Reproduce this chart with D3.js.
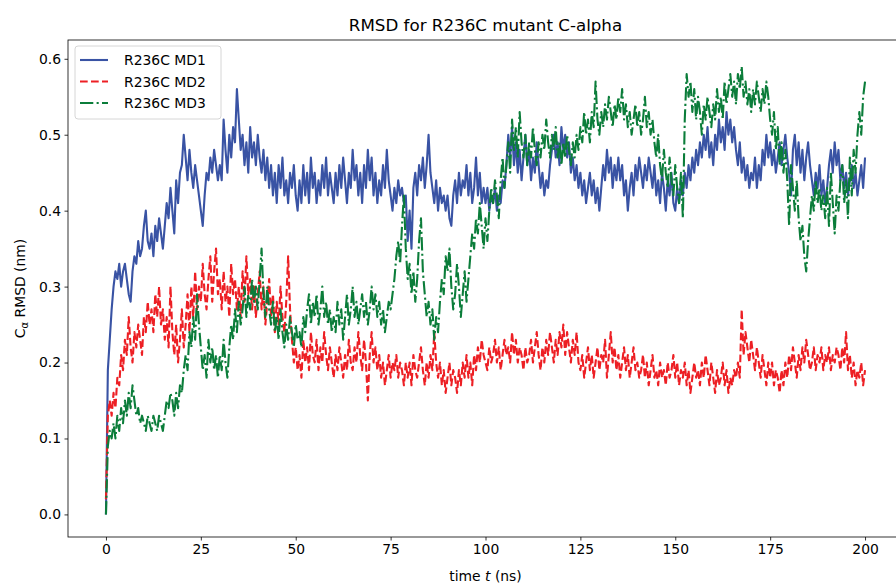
<!DOCTYPE html>
<html>
<head>
<meta charset="utf-8">
<script src="https://cdn.jsdelivr.net/npm/d3@7"></script>
<style>
  body { margin: 0; background: #fff; }
  text { font-family: "DejaVu Sans", sans-serif; }
</style>
</head>
<body>
<div id="chart"></div>
<script>
// time step of the trajectory samples (ns), series run from 0 to 200 ns
var timeStep = 0.5;

var seriesNames = ["R236C MD1", "R236C MD2", "R236C MD3"];

var md1 = [
  0.00, 0.19, 0.23, 0.27, 0.30, 0.32, 0.31, 0.33, 0.30, 0.32,
  0.33, 0.31, 0.29, 0.28, 0.32, 0.34, 0.33, 0.36, 0.34, 0.35,
  0.38, 0.40, 0.36, 0.35, 0.37, 0.34, 0.38, 0.36, 0.39, 0.37,
  0.35, 0.38, 0.41, 0.39, 0.43, 0.40, 0.37, 0.44, 0.41, 0.45,
  0.46, 0.50, 0.47, 0.44, 0.48, 0.45, 0.43, 0.46, 0.44, 0.42,
  0.40, 0.38, 0.42, 0.45, 0.44, 0.47, 0.45, 0.48, 0.46, 0.44,
  0.46, 0.44, 0.52, 0.48, 0.45, 0.50, 0.47, 0.51, 0.49, 0.56,
  0.52, 0.48, 0.50, 0.46, 0.49, 0.45, 0.51, 0.47, 0.49, 0.46,
  0.50, 0.47, 0.45, 0.48, 0.44, 0.47, 0.43, 0.46, 0.42, 0.45,
  0.41, 0.46, 0.43, 0.47, 0.42, 0.44, 0.41, 0.45, 0.43, 0.46,
  0.42, 0.40, 0.44, 0.41, 0.46, 0.42, 0.45, 0.41, 0.47, 0.43,
  0.45, 0.41, 0.44, 0.42, 0.46, 0.43, 0.47, 0.42, 0.45, 0.43,
  0.41, 0.45, 0.42, 0.46, 0.43, 0.47, 0.44, 0.41, 0.45, 0.43,
  0.48, 0.44, 0.46, 0.42, 0.45, 0.41, 0.46, 0.43, 0.48, 0.44,
  0.47, 0.42, 0.45, 0.41, 0.44, 0.42, 0.46, 0.43, 0.48, 0.44,
  0.42, 0.40, 0.43, 0.41, 0.44, 0.42, 0.43, 0.41, 0.42, 0.36,
  0.40, 0.35, 0.43, 0.45, 0.42, 0.46, 0.44, 0.47, 0.43, 0.46,
  0.50, 0.45, 0.43, 0.41, 0.44, 0.40, 0.43, 0.41, 0.42, 0.40,
  0.42, 0.39, 0.38, 0.42, 0.44, 0.41, 0.45, 0.42, 0.44, 0.43,
  0.46, 0.42, 0.45, 0.41, 0.43, 0.47, 0.42, 0.45, 0.41, 0.43,
  0.41, 0.43, 0.40, 0.42, 0.41, 0.43, 0.40, 0.42, 0.41, 0.44,
  0.43, 0.46, 0.50, 0.47, 0.51, 0.46, 0.49, 0.45, 0.48, 0.44,
  0.47, 0.50, 0.46, 0.48, 0.44, 0.47, 0.45, 0.49, 0.46, 0.43,
  0.45, 0.42, 0.44, 0.43, 0.46, 0.48, 0.50, 0.47, 0.49, 0.46,
  0.51, 0.48, 0.50, 0.47, 0.49, 0.45, 0.47, 0.44, 0.46, 0.43,
  0.45, 0.42, 0.44, 0.41, 0.43, 0.45, 0.42, 0.44, 0.41, 0.43,
  0.40, 0.43, 0.46, 0.44, 0.48, 0.45, 0.47, 0.43, 0.46, 0.44,
  0.47, 0.44, 0.46, 0.42, 0.44, 0.40, 0.43, 0.45, 0.42, 0.46,
  0.44, 0.47, 0.45, 0.43, 0.46, 0.44, 0.47, 0.45, 0.43, 0.46,
  0.42, 0.44, 0.41, 0.45, 0.43, 0.40, 0.44, 0.42, 0.45, 0.41,
  0.40, 0.43, 0.41, 0.44, 0.42, 0.45, 0.43, 0.46, 0.44, 0.47,
  0.45, 0.48, 0.46, 0.49, 0.47, 0.50, 0.48, 0.51, 0.47, 0.49,
  0.46, 0.50, 0.48, 0.52, 0.49, 0.51, 0.48, 0.53, 0.50, 0.52,
  0.49, 0.51, 0.48, 0.46, 0.49, 0.45, 0.47, 0.44, 0.46, 0.43,
  0.45, 0.44, 0.47, 0.43, 0.46, 0.44, 0.48, 0.46, 0.50, 0.47,
  0.49, 0.46, 0.48, 0.45, 0.47, 0.49, 0.46, 0.48, 0.50, 0.47,
  0.45, 0.42, 0.48, 0.50, 0.46, 0.49, 0.45, 0.48, 0.44, 0.47,
  0.49, 0.46, 0.44, 0.42, 0.45, 0.43, 0.46, 0.42, 0.44, 0.41,
  0.43, 0.46, 0.48, 0.45, 0.49, 0.46, 0.48, 0.44, 0.46, 0.43,
  0.45, 0.42, 0.44, 0.46, 0.43, 0.45, 0.42, 0.44, 0.46, 0.43,
  0.47
];

var md2 = [
  0.02, 0.13, 0.15, 0.13, 0.16, 0.14, 0.18, 0.17, 0.21, 0.19,
  0.23, 0.21, 0.26, 0.22, 0.20, 0.24, 0.22, 0.25, 0.23, 0.21,
  0.26, 0.24, 0.28, 0.25, 0.27, 0.24, 0.29, 0.26, 0.30, 0.25,
  0.27, 0.23, 0.26, 0.22, 0.30, 0.24, 0.21, 0.25, 0.20, 0.23,
  0.27, 0.22, 0.25, 0.29, 0.24, 0.30, 0.26, 0.32, 0.27, 0.30,
  0.28, 0.33, 0.29, 0.27, 0.31, 0.34, 0.28, 0.32, 0.35, 0.29,
  0.31, 0.27, 0.32, 0.28, 0.30, 0.26, 0.33, 0.29, 0.31, 0.27,
  0.30, 0.26, 0.32, 0.28, 0.34, 0.29, 0.31, 0.27, 0.30, 0.26,
  0.29, 0.32, 0.27, 0.30, 0.25, 0.28, 0.31, 0.26, 0.29, 0.24,
  0.28, 0.25, 0.30, 0.26, 0.24, 0.28, 0.34, 0.27, 0.23, 0.20,
  0.22, 0.19, 0.21, 0.18, 0.23, 0.20, 0.22, 0.19, 0.24, 0.21,
  0.20, 0.23, 0.19, 0.22, 0.20, 0.24, 0.21, 0.19, 0.22, 0.20,
  0.18, 0.21, 0.19, 0.22, 0.20, 0.18, 0.21, 0.19, 0.23, 0.20,
  0.19, 0.22, 0.20, 0.24, 0.21, 0.19, 0.23, 0.20, 0.15, 0.21,
  0.24, 0.20, 0.22, 0.19, 0.21, 0.18, 0.20, 0.17, 0.19, 0.21,
  0.18, 0.20, 0.19, 0.21, 0.18, 0.20, 0.19, 0.17, 0.20, 0.18,
  0.20, 0.17, 0.21, 0.19, 0.18, 0.20, 0.22, 0.19, 0.17, 0.20,
  0.18, 0.21, 0.19, 0.24, 0.20, 0.18, 0.20, 0.17, 0.19, 0.16,
  0.18, 0.20, 0.17, 0.19, 0.18, 0.16, 0.19, 0.17, 0.20, 0.18,
  0.21, 0.18, 0.20, 0.17, 0.21, 0.19, 0.22, 0.20, 0.23, 0.21,
  0.20, 0.19, 0.22, 0.20, 0.21, 0.23, 0.20, 0.22, 0.19, 0.21,
  0.23, 0.21, 0.22, 0.20, 0.24, 0.21, 0.23, 0.20, 0.22, 0.21,
  0.19, 0.22, 0.20, 0.21, 0.23, 0.20, 0.22, 0.24, 0.21, 0.19,
  0.22, 0.20, 0.23, 0.21, 0.24, 0.22, 0.20, 0.23, 0.21, 0.24,
  0.22, 0.25, 0.21, 0.24, 0.22, 0.20, 0.23, 0.21, 0.24, 0.20,
  0.19, 0.21, 0.18, 0.20, 0.22, 0.19, 0.21, 0.18, 0.20, 0.22,
  0.19, 0.21, 0.20, 0.23, 0.18, 0.21, 0.24, 0.20, 0.22, 0.19,
  0.21, 0.18, 0.20, 0.22, 0.19, 0.21, 0.18, 0.20, 0.22, 0.19,
  0.20, 0.18, 0.19, 0.21, 0.18, 0.20, 0.17, 0.19, 0.21, 0.18,
  0.19, 0.17, 0.20, 0.18, 0.19, 0.17, 0.20, 0.18, 0.19, 0.21,
  0.18, 0.20, 0.17, 0.19, 0.18, 0.20, 0.17, 0.19, 0.16, 0.18,
  0.20, 0.18, 0.19, 0.17, 0.20, 0.18, 0.21, 0.19, 0.17, 0.20,
  0.18, 0.16, 0.19, 0.17, 0.18, 0.20, 0.17, 0.19, 0.16, 0.18,
  0.17, 0.19, 0.18, 0.20, 0.18, 0.27, 0.21, 0.24, 0.22, 0.20,
  0.23, 0.21, 0.19, 0.22, 0.20, 0.18, 0.21, 0.19, 0.17, 0.20,
  0.18, 0.20, 0.17, 0.19, 0.18, 0.16, 0.19, 0.17, 0.20, 0.18,
  0.21, 0.19, 0.22, 0.20, 0.18, 0.21, 0.19, 0.22, 0.20, 0.23,
  0.21, 0.19, 0.20, 0.22, 0.19, 0.21, 0.20, 0.22, 0.19, 0.21,
  0.20, 0.22, 0.19, 0.21, 0.20, 0.22, 0.21, 0.19, 0.22, 0.20,
  0.24, 0.19, 0.21, 0.18, 0.20, 0.17, 0.19, 0.18, 0.20, 0.17,
  0.19
];

var md3 = [
  0.00, 0.09, 0.11, 0.10, 0.12, 0.10, 0.13, 0.11, 0.14, 0.12,
  0.15, 0.13, 0.16, 0.14, 0.17, 0.15, 0.13, 0.14, 0.12, 0.13,
  0.12, 0.11, 0.13, 0.12, 0.11, 0.13, 0.12, 0.11, 0.13, 0.12,
  0.11, 0.13, 0.15, 0.14, 0.16, 0.15, 0.13, 0.16, 0.14, 0.17,
  0.16, 0.19, 0.21, 0.19, 0.24, 0.22, 0.26, 0.23, 0.29, 0.25,
  0.22, 0.19, 0.21, 0.18, 0.23, 0.20, 0.22, 0.19, 0.21, 0.18,
  0.21, 0.19, 0.23, 0.20, 0.18, 0.22, 0.25, 0.23, 0.27, 0.24,
  0.28, 0.25, 0.27, 0.30, 0.26, 0.29, 0.27, 0.31, 0.28, 0.30,
  0.27, 0.31, 0.35, 0.29, 0.26, 0.30, 0.27, 0.25, 0.28, 0.24,
  0.26, 0.23, 0.27, 0.24, 0.22, 0.25, 0.23, 0.26, 0.24, 0.22,
  0.25, 0.23, 0.24, 0.22, 0.26, 0.24, 0.27, 0.29, 0.25, 0.28,
  0.26, 0.29, 0.25, 0.27, 0.30, 0.26, 0.28, 0.25, 0.27, 0.24,
  0.26, 0.24, 0.28, 0.25, 0.27, 0.23, 0.26, 0.29, 0.25, 0.27,
  0.30, 0.26, 0.28, 0.25, 0.27, 0.29, 0.26, 0.28, 0.25, 0.27,
  0.30, 0.27, 0.29, 0.26, 0.28, 0.25, 0.27, 0.24, 0.26, 0.28,
  0.27, 0.29, 0.31, 0.34, 0.36, 0.33, 0.38, 0.42, 0.35, 0.31,
  0.33, 0.29, 0.32, 0.28, 0.31, 0.36, 0.39, 0.32, 0.29, 0.26,
  0.28, 0.25, 0.27, 0.23, 0.26, 0.24, 0.28, 0.31, 0.29, 0.34,
  0.32, 0.35, 0.30, 0.27, 0.29, 0.33, 0.30, 0.26, 0.29, 0.32,
  0.28, 0.31, 0.34, 0.37, 0.35, 0.39, 0.37, 0.41, 0.38, 0.35,
  0.39, 0.36, 0.40, 0.43, 0.41, 0.44, 0.42, 0.39, 0.44, 0.47,
  0.43, 0.46, 0.49, 0.45, 0.52, 0.48, 0.51, 0.47, 0.53, 0.49,
  0.47, 0.50, 0.46, 0.49, 0.47, 0.51, 0.48, 0.46, 0.49, 0.47,
  0.50, 0.48, 0.52, 0.49, 0.47, 0.50, 0.48, 0.51, 0.47, 0.49,
  0.46, 0.49, 0.47, 0.50, 0.48, 0.46, 0.49, 0.47, 0.50, 0.48,
  0.51, 0.49, 0.53, 0.50, 0.52, 0.49, 0.53, 0.51, 0.57, 0.52,
  0.50, 0.53, 0.51, 0.54, 0.52, 0.55, 0.53, 0.51, 0.54, 0.52,
  0.55, 0.53, 0.56, 0.52, 0.54, 0.51, 0.53, 0.50, 0.52, 0.54,
  0.51, 0.53, 0.50, 0.52, 0.55, 0.51, 0.53, 0.50, 0.52, 0.49,
  0.47, 0.50, 0.46, 0.44, 0.48, 0.45, 0.43, 0.47, 0.44, 0.42,
  0.46, 0.43, 0.41, 0.45, 0.39, 0.52, 0.58, 0.55, 0.57, 0.53,
  0.56, 0.52, 0.55, 0.53, 0.50, 0.54, 0.52, 0.55, 0.53, 0.51,
  0.54, 0.52, 0.56, 0.53, 0.55, 0.52, 0.57, 0.54, 0.56, 0.58,
  0.55, 0.57, 0.54, 0.58, 0.56, 0.59, 0.55, 0.57, 0.54, 0.56,
  0.53, 0.56, 0.54, 0.57, 0.55, 0.53, 0.56, 0.54, 0.57, 0.55,
  0.52, 0.50, 0.53, 0.48, 0.51, 0.46, 0.49, 0.45, 0.48, 0.44,
  0.38, 0.46, 0.43, 0.40, 0.44, 0.39, 0.36, 0.38, 0.34, 0.32,
  0.36, 0.39, 0.42, 0.40, 0.44, 0.41, 0.43, 0.40, 0.42, 0.39,
  0.43, 0.38, 0.45, 0.41, 0.37, 0.42, 0.40, 0.44, 0.46, 0.41,
  0.44, 0.39, 0.47, 0.42, 0.48, 0.45, 0.50, 0.53, 0.50, 0.55,
  0.57
];

var xTicks = [0, 25, 50, 75, 100, 125, 150, 175, 200];
var yTicks = [0.0, 0.1, 0.2, 0.3, 0.4, 0.5, 0.6];

var colors = ["#3953a4", "#ed1f24", "#0b7d3a"];
var dashes = ["none", "7.7,3.3", "13.3,3.3,2.1,3.3"];

var svgWidth = 896;
var svgHeight = 586;

var margin = { top: 40, right: -7, bottom: 49, left: 68 };
var width = svgWidth - margin.left - margin.right;
var height = svgHeight - margin.top - margin.bottom;

var svg = d3.select("#chart")
  .append("svg")
  .attr("width", svgWidth)
  .attr("height", svgHeight);

var chartGroup = svg.append("g")
  .attr("transform", `translate(${margin.left}, ${margin.top})`);

var xScale = d3.scaleLinear()
  .domain([-10, 210])
  .range([0, width]);

var yScale = d3.scaleLinear()
  .domain([-0.02975, 0.62475])
  .range([height, 0]);

chartGroup.append("clipPath")
  .attr("id", "plotClip")
  .append("rect")
  .attr("width", width)
  .attr("height", height);

var series = [md1, md2, md3].map(function(vals, i) {
  return {
    name: seriesNames[i],
    color: colors[i],
    dash: dashes[i],
    points: vals.map(function(v, j) { return { t: j * timeStep, rmsd: v }; })
  };
});

var line = d3.line()
  .x(d => xScale(d.t))
  .y(d => yScale(d.rmsd));

chartGroup.append("g")
  .attr("clip-path", "url(#plotClip)")
  .selectAll("path")
  .data(series)
  .enter()
  .append("path")
  .attr("d", d => line(d.points))
  .attr("fill", "none")
  .attr("stroke", d => d.color)
  .attr("stroke-width", 2.1)
  .attr("stroke-dasharray", d => d.dash)
  .attr("stroke-linejoin", "round");

// axes
var bottomAxis = d3.axisBottom(xScale)
  .tickValues(xTicks)
  .tickSize(3.5)
  .tickPadding(3.5)
  .tickFormat(d3.format("d"));

var leftAxis = d3.axisLeft(yScale)
  .tickValues(yTicks)
  .tickSize(3.5)
  .tickPadding(3.5)
  .tickFormat(d3.format(".1f"));

var xAxisG = chartGroup.append("g")
  .attr("transform", `translate(0, ${height})`)
  .call(bottomAxis);

var yAxisG = chartGroup.append("g")
  .call(leftAxis);

[xAxisG, yAxisG].forEach(function(g) {
  g.select(".domain").remove();
  g.selectAll("line").attr("stroke", "#000").attr("stroke-width", 0.8);
  g.selectAll("text")
    .attr("fill", "#000")
    .style("font-size", "13.9px")
    .style("font-family", "DejaVu Sans, sans-serif");
});

// frame
chartGroup.append("rect")
  .attr("width", width)
  .attr("height", height)
  .attr("fill", "none")
  .attr("stroke", "#000")
  .attr("stroke-width", 0.8);

// title
chartGroup.append("text")
  .attr("x", width / 2)
  .attr("y", -9)
  .attr("text-anchor", "middle")
  .style("font-size", "16.7px")
  .text("RMSD for R236C mutant C-alpha");

// x label
var xLabel = chartGroup.append("text")
  .attr("x", width / 2)
  .attr("y", height + 44)
  .attr("text-anchor", "middle")
  .style("font-size", "13.9px");
xLabel.append("tspan").text("time ");
xLabel.append("tspan").style("font-style", "italic").text("t");
xLabel.append("tspan").text(" (ns)");

// y label
var yLabel = chartGroup.append("text")
  .attr("transform", `translate(-43, ${height / 2}) rotate(-90)`)
  .attr("text-anchor", "middle")
  .style("font-size", "13.9px");
yLabel.append("tspan").text("C");
yLabel.append("tspan").attr("dy", 3).style("font-size", "10px").text("α");
yLabel.append("tspan").attr("dy", -3).text(" RMSD (nm)");

// legend
var legend = chartGroup.append("g")
  .attr("transform", "translate(7, 6)");

legend.append("rect")
  .attr("width", 146)
  .attr("height", 73)
  .attr("rx", 3)
  .attr("fill", "#fff")
  .attr("fill-opacity", 0.8)
  .attr("stroke", "#ccc")
  .attr("stroke-width", 0.8);

var legendItems = legend.selectAll(".item")
  .data(series)
  .enter()
  .append("g")
  .attr("class", "item")
  .attr("transform", (d, i) => `translate(0, ${14 + i * 21.5})`);

legendItems.append("line")
  .attr("x1", 5)
  .attr("x2", 33)
  .attr("stroke", d => d.color)
  .attr("stroke-width", 2.1)
  .attr("stroke-dasharray", d => d.dash);

legendItems.append("text")
  .attr("x", 49)
  .attr("y", 5)
  .style("font-size", "13.9px")
  .text(d => d.name);
</script>
</body>
</html>
